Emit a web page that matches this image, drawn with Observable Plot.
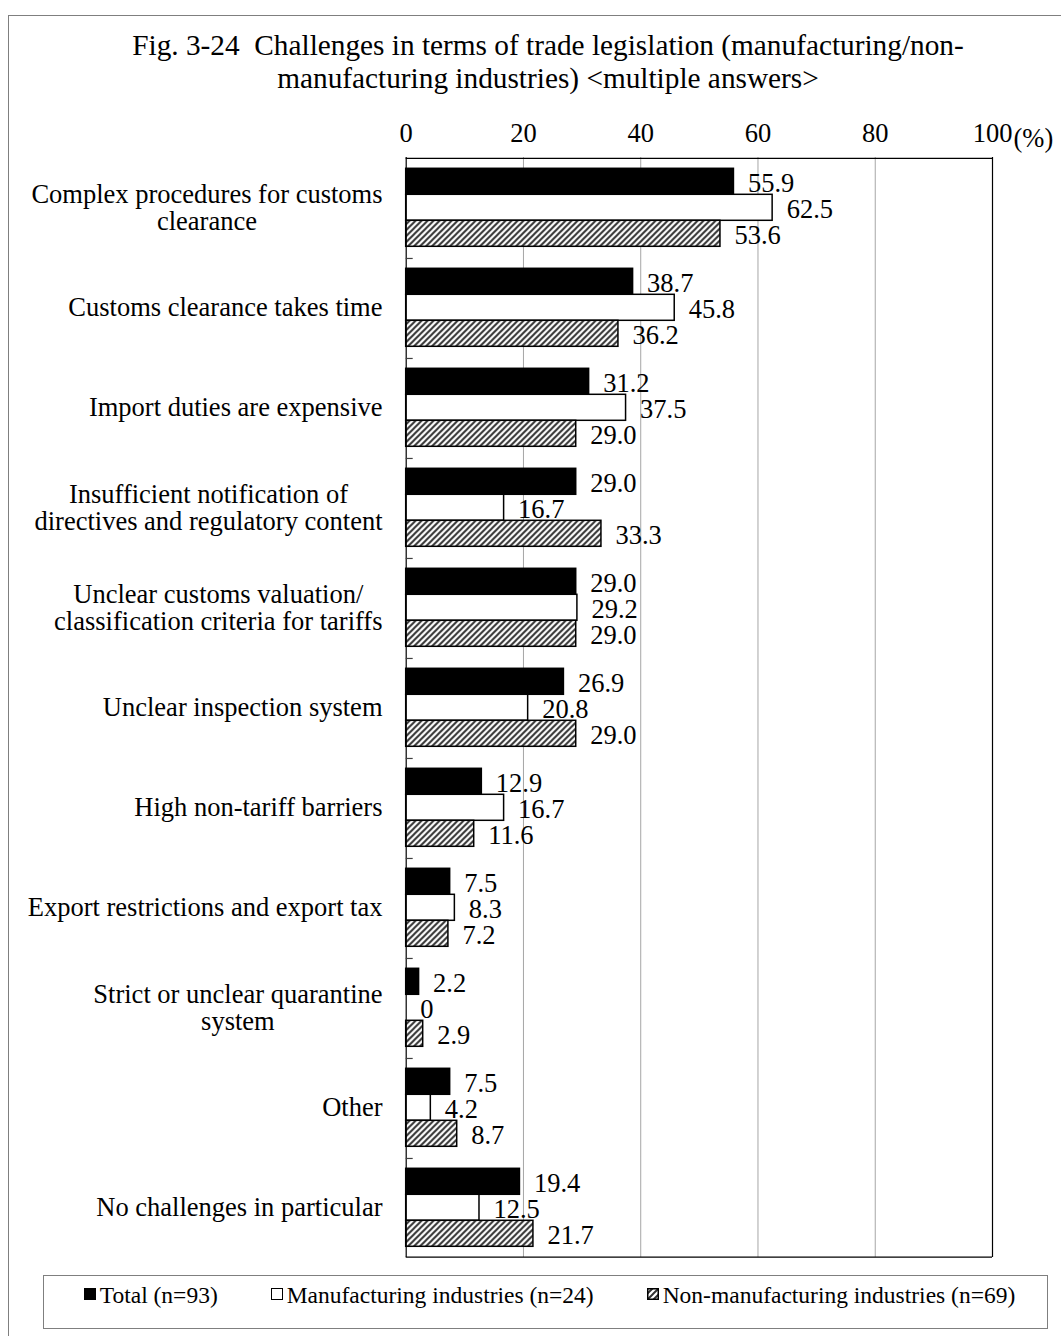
<!DOCTYPE html>
<html>
<head>
<meta charset="utf-8">
<script src="https://cdn.jsdelivr.net/npm/d3@7"></script>
<script src="https://cdn.jsdelivr.net/npm/@observablehq/plot@0.6"></script>
<style>
  body { margin: 0; background: #fff; overflow: hidden; }
  #wrap { position: relative; width: 1061px; height: 1336px; overflow: hidden;
          font-family: 'Liberation Serif', 'Times New Roman', serif; color: #000; }
  #frame { position: absolute; left: 7.5px; top: 14.5px; width: 1200px; height: 1500px;
           border-left: 1.5px solid #7f7f7f; border-top: 1.5px solid #7f7f7f; }
  #chart { position: absolute; left: 0; top: 0; }
  #title { position: absolute; left: 0; top: 28.6px; width: 1096px; text-align: center;
           font-size: 29.3px; line-height: 33px; white-space: pre; }
  #legend { position: absolute; left: 43px; top: 1275px; width: 1005px; height: 54px;
            box-sizing: border-box; border: 1.5px solid #7f7f7f; background: #fff; }
  #legend .row { position: absolute; left: 8px; right: 0; top: 4px; display: flex;
                 justify-content: center; gap: 53px; font-size: 23.5px; line-height: 30px; white-space: pre; }
  .sw { display: inline-block; width: 12px; height: 12px; margin-right: 4px; vertical-align: 3px; box-sizing: border-box; }
</style>
</head>
<body>
<div id="wrap">
  <div id="frame"></div>
  <div id="chart"></div>
  <div id="title"></div>
  <div id="legend"><div class="row"></div></div>
</div>
<script>
// ---------------- data ----------------
const titleLines = [
  "Fig. 3-24  Challenges in terms of trade legislation (manufacturing/non-",
  "manufacturing industries) <multiple answers>"
];
const categories = [
  "Complex procedures for customs\nclearance",
  "Customs clearance takes time",
  "Import duties are expensive",
  "Insufficient notification of\ndirectives and regulatory content",
  "Unclear customs valuation/\nclassification criteria for tariffs",
  "Unclear inspection system",
  "High non-tariff barriers",
  "Export restrictions and export tax",
  "Strict or unclear quarantine\nsystem",
  "Other",
  "No challenges in particular"
];
const seriesNames = [
  "Total (n=93)",
  "Manufacturing industries (n=24)",
  "Non-manufacturing industries (n=69)"
];
const totalValues         = [55.9, 38.7, 31.2, 29.0, 29.0, 26.9, 12.9, 7.5, 2.2, 7.5, 19.4];
const manufacturingValues = [62.5, 45.8, 37.5, 16.7, 29.2, 20.8, 16.7, 8.3, 0,   4.2, 12.5];
const nonManufValues      = [53.6, 36.2, 29.0, 33.3, 29.0, 29.0, 11.6, 7.2, 2.9, 8.7, 21.7];
const xTicks = [0, 20, 40, 60, 80, 100];
const gridTicks = [20, 40, 60, 80];
const unitLabel = "(%)";
const seriesFills = ["#000", "#fff", "url(#hatch)"];

// ---------------- layout ----------------
const W = 1061, H = 1262;
const mt = 156.7, mb = 5.3, ml = 405.7, mr = 69;
const fontSize = 26.5;
const padOuter = 0.375;
const facetH = (H - mt - mb) / categories.length;
const step = facetH / (seriesNames.length + 2 * padOuter);
const edge = (padOuter + 0.5) * step;
const pxPerUnit = (W - ml - mr) / 100;

const valueSets = [totalValues, manufacturingValues, nonManufValues];
const rows = categories.flatMap((c, i) =>
  seriesNames.map((s, j) => ({category: c, series: s, value: valueSets[j][i]}))
);

// measure label widths to center multi-line labels like the original
const ctx = document.createElement("canvas").getContext("2d");
ctx.font = `${fontSize}px "Liberation Serif"`;
const labelMarks = categories.map(c => {
  const w = d3.max(c.split("\n"), s => ctx.measureText(s).width);
  return Plot.text([c], {
    fy: d => d, text: d => d, frameAnchor: "left", textAnchor: "middle",
    lineHeight: 1.03, dx: -(23.7 + w / 2), fill: "#000"
  });
});

const chart = Plot.plot({
  width: W, height: H,
  marginTop: mt, marginBottom: mb, marginLeft: ml, marginRight: mr,
  style: {fontFamily: "'Liberation Serif', 'Times New Roman', serif", fontSize: fontSize + "px",
          background: "transparent", color: "#000", overflow: "visible"},
  x: {domain: [0, 100], axis: "top", ticks: xTicks, tickSize: 0, tickPadding: 16, label: null},
  y: {domain: seriesNames, paddingInner: 0, paddingOuter: padOuter, axis: null},
  fy: {domain: categories, padding: 0, axis: null},
  color: {type: "ordinal", domain: seriesNames, range: seriesFills},
  marks: [
    Plot.ruleX(gridTicks, {stroke: "#a6a6a6", strokeWidth: 1}),
    Plot.barX(rows, {fy: "category", y: "series", x: "value", fill: "series", stroke: "#000", strokeWidth: 1.5}),
    Plot.ruleX([0], {stroke: "#000", strokeWidth: 1.2}),
    Plot.ruleX([100], {stroke: "#000", strokeWidth: 1.2}),
    Plot.ruleY([categories[0]], {fy: d => d, y: () => seriesNames[0], x1: () => 0, x2: () => 100, dy: -edge, stroke: "#000", strokeWidth: 1.2}),
    Plot.ruleY([categories[categories.length - 1]], {fy: d => d, y: () => seriesNames[seriesNames.length - 1], x1: () => 0, x2: () => 100, dy: edge, stroke: "#000", strokeWidth: 1.2}),
    Plot.ruleY(categories.slice(1), {fy: d => d, y: () => seriesNames[0], x1: () => 0, x2: () => 7 / pxPerUnit, dy: -edge, stroke: "#404040", strokeWidth: 1.2}),
    Plot.text(rows, {fy: "category", y: "series", x: "value",
      text: d => d.value === 0 ? "0" : d.value.toFixed(1), textAnchor: "start", dx: 14, dy: 2, fill: "#000"}),
    Plot.text([unitLabel], {fy: () => categories[0], frameAnchor: "top-right", textAnchor: "start",
      lineAnchor: "bottom", dx: 21, dy: -11, fill: "#000"}),
    ...labelMarks
  ]
});

// hatch pattern definition
chart.insertAdjacentHTML("afterbegin",
  `<defs><pattern id="hatch" patternUnits="userSpaceOnUse" width="6" height="6">
     <rect width="6" height="6" fill="#fff"/>
     <path d="M-1.5,1.5 L1.5,-1.5 M0,6 L6,0 M4.5,7.5 L7.5,4.5" stroke="#333" stroke-width="2"/>
   </pattern></defs>`);
document.getElementById("chart").appendChild(chart);

// title
document.getElementById("title").textContent = titleLines.join("\n");

// legend
const row = document.querySelector("#legend .row");
seriesNames.forEach((s, j) => {
  const item = document.createElement("span");
  let sw;
  if (j === 2) {
    sw = `<svg class="sw" width="12" height="12" viewBox="0 0 12 12" style="overflow:visible"><rect x="0.75" y="0.75" width="10.5" height="10.5" fill="url(#hatch)" stroke="#000" stroke-width="1.5"/></svg>`;
  } else {
    sw = `<span class="sw" style="background:${seriesFills[j]};border:1.5px solid #000"></span>`;
  }
  item.innerHTML = sw;
  item.appendChild(document.createTextNode(s));
  row.appendChild(item);
});
</script>
</body>
</html>
